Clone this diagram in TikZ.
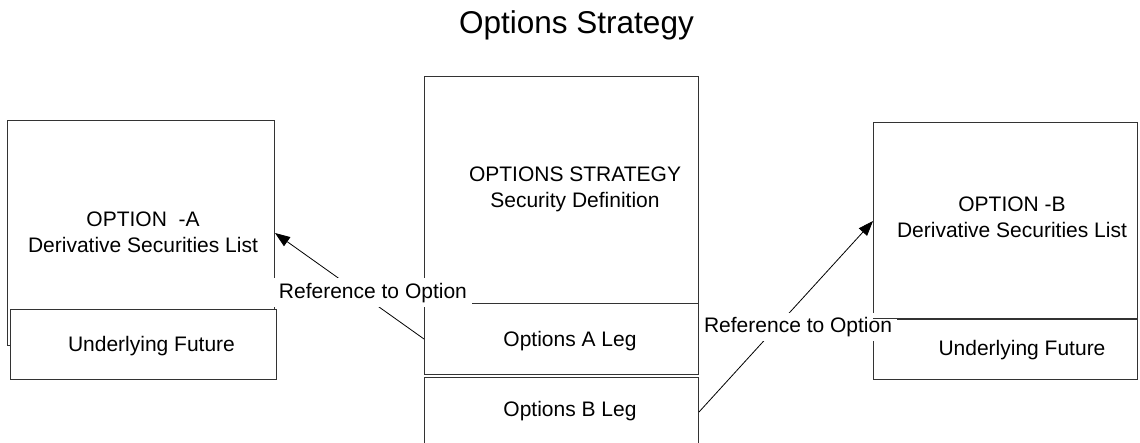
\documentclass[tikz,border=0pt]{standalone}
\usepackage{fontspec}
\setmainfont{Liberation Sans}
\usetikzlibrary{arrows.meta}
\begin{document}
\begin{tikzpicture}[x=1pt,y=-1pt,
  box/.style={draw=black!80, line width=1pt, anchor=north west, inner sep=0pt},
  txt/.style={font=\fontsize{21}{26}\selectfont, align=center, inner sep=0pt},
  lbl/.style={font=\fontsize{21}{26}\selectfont, fill=white, inner xsep=5pt, inner ysep=4.5pt},
  ref/.style={-{Triangle[length=15pt,width=11pt]}, line width=0.8pt},
  ttl/.style={font=\fontsize{31.5}{38}\selectfont, inner sep=0pt}]
\useasboundingbox (0,0) rectangle (1140,443);
\clip (0,0) rectangle (1140,443);

% title
\node[ttl] (title) at (576.5,25.8) {Options Strategy};

% option A: derivative securities list with its underlying
\node[box, minimum width=267pt, minimum height=225pt] (optA) at (7,120) {};
\node[box, fill=white, minimum width=266pt, minimum height=70pt] (futA) at (10,309) {};

% options strategy security definition and its legs
\node[box, minimum width=274pt, minimum height=227pt] (strat) at (424,76) {};
\node[box, minimum width=274pt, minimum height=71pt] (legA) at (424,303) {};
\node[box, minimum width=274pt, minimum height=69pt] (legB) at (424,377) {};

% option B: derivative securities list with its underlying
\node[box, minimum width=264pt, minimum height=197pt] (optB) at (873,122) {};
\node[box, minimum width=264pt, minimum height=60pt] (futB) at (873,319) {};

% box texts
\node[txt] (tA) at (143,232) {OPTION\ \ -A\\Derivative Securities List};
\node[txt] (tFA) at (151.5,346.5) {Underlying Future};
\node[txt] (tS) at (575,189.5) {OPTIONS STRATEGY\\Security Definition};
\node[txt] (tLA) at (570,341.5) {Options A Leg};
\node[txt] (tLB) at (570,411.5) {Options B Leg};
\node[txt] (tB) at (1012,217.4) {OPTION -B\\Derivative Securities List};
\node[txt] (tFB) at (1022,350.5) {Underlying Future};

% leg references
\draw[ref] (legA.west) -- node[lbl, pos=0.436, xshift=13.9pt] (rA) {Reference to Option} (optA.east);
\draw[ref] (legB.east) -- node[lbl, pos=0.445, xshift=21.6pt] (rB) {Reference to Option} (optB.west);

% divider of option B stays on top of the label
\draw[draw=black!80, line width=1pt] (futB.north west) -- (futB.north east);
\end{tikzpicture}
\end{document}
